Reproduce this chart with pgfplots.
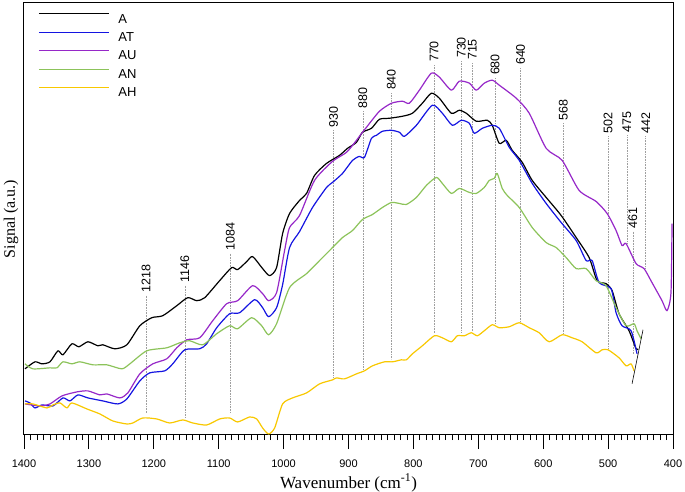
\documentclass[border=0pt]{standalone}
\usepackage{fontspec}
\setmainfont{Liberation Sans}
\newfontfamily\timesfont{Liberation Serif}
\usepackage{pgfplots}
\pgfplotsset{compat=1.18}
\definecolor{cA}{RGB}{0,0,0}
\definecolor{cAT}{RGB}{20,20,225}
\definecolor{cAU}{RGB}{150,40,200}
\definecolor{cAN}{RGB}{140,195,90}
\definecolor{cAH}{RGB}{248,200,0}
\begin{document}
\begin{tikzpicture}
\useasboundingbox (-24pt,-57pt) rectangle (661pt,435pt);
\begin{axis}[
  scale only axis, width=649pt, height=432pt,
  at={(0,0)}, anchor=south west,
  xmin=400, xmax=1400, x dir=reverse, ymin=0, ymax=431,
  axis line style={line width=1pt},
  xtick={400,500,...,1400}, minor x tick num=9,
  ytick=\empty, tick pos=left, tick align=outside,
  major tick length=14pt, minor tick length=5pt,
  every tick/.style={black, line width=0.8pt},
  /pgf/number format/assume math mode=true, /pgf/number format/1000 sep={},
  xticklabel style={font=\fontsize{11}{11}\selectfont, yshift=-7pt},
  xlabel={\timesfont Wavenumber (cm\textsuperscript{-1})},
  xlabel style={font=\fontsize{17}{17}\selectfont, at={(axis description cs:0.5,0)}, anchor=center, yshift=-48pt},
  ylabel={\timesfont Signal (a.u.)},
  ylabel style={font=\fontsize{16}{16}\selectfont, at={(axis description cs:0,0.5)}, anchor=center, rotate=0, yshift=13pt},
  legend image code/.code={\draw[#1, line width=1.2pt] (0pt,4.6pt) -- (70pt,4.6pt);},
  legend cell align=left,
  legend style={draw=none, fill=none, at={(axis description cs:0,1)}, anchor=north west, xshift=14pt, yshift=-10pt,
    font=\fontsize{13}{13}\selectfont, row sep=8.6pt, column sep=9pt, inner sep=0pt,
    nodes={inner sep=0pt, text height=9.3pt, text depth=0pt}},
  every axis plot/.append style={line width=1.2pt, line join=round},
]
% reference lines
\pgfplotsset{refl/.style={gray!75, line width=0.5pt, dash pattern=on 1pt off 0.6pt, forget plot}}
\addplot[refl] coordinates {(1212,139) (1212,21)};
\addplot[refl] coordinates {(1152,149) (1152,17)};
\addplot[refl] coordinates {(1082,181) (1082,22)};
\addplot[refl] coordinates {(923,304) (923,57)};
\addplot[refl] coordinates {(878,323) (878,65)};
\addplot[refl] coordinates {(834,341) (834,76)};
\addplot[refl] coordinates {(768,369) (768,101)};
\addplot[refl] coordinates {(726,373) (726,102)};
\addplot[refl] coordinates {(709,371) (709,104)};
\addplot[refl] coordinates {(674,356) (674,111)};
\addplot[refl] coordinates {(635,366) (635,112)};
\addplot[refl] coordinates {(569,311) (569,101)};
\addplot[refl] coordinates {(500,298) (500,86)};
\addplot[refl] coordinates {(471,299) (471,191)};
\addplot[refl] coordinates {(462,203) (462,81)};
\addplot[refl] coordinates {(442,298) (442,167)};

\addplot[cA, smooth, tension=0.4] coordinates {(1398.5,66)(1383.1,73)(1372.3,71)(1360,73)(1347.7,84)(1340,80)(1326.2,91)(1315.4,88)(1301.5,93)(1286.2,89)(1278.5,90)(1260,86)(1241.5,90)(1221.5,109)(1203.1,117)(1186.2,119)(1164.6,129)(1147.7,137)(1133.8,134)(1121.5,137)(1098.5,154)(1080,167)(1070.8,165)(1056.9,173)(1047.7,178)(1032.3,166)(1021.5,159)(1010.8,167)(1001.5,201)(990.8,221)(975.4,234)(964.6,241)(952.3,259)(933.8,271)(913.8,279)(901.5,286)(887.7,292)(878.5,302)(864.6,306)(852.3,315)(836.9,316)(816.9,318)(801.5,321)(786.2,331)(772.3,341)(760,336)(741.5,321)(729.2,324)(718.5,321)(703.1,313)(686.2,314)(678.5,309)(667.7,291)(656.9,294)(647.7,284)(632.3,272)(616.9,254)(595.4,237)(572.3,219)(549.2,197)(529.2,177)(516.9,154)(503.1,151)(493.8,144)(483.1,121)(467.7,104)(456.9,86)(453.8,86)};
\addlegendentry{A}
\addplot[cAT, smooth, tension=0.4] coordinates {(1398.5,34)(1390.8,32)(1383.1,27)(1372.3,30)(1355.4,29)(1340,37)(1329.2,34)(1316.9,40)(1301.5,37)(1278.5,34)(1255.4,31)(1241.5,36)(1221.5,54)(1206.2,62)(1183.1,64)(1170.8,71)(1152.3,85)(1129.2,86)(1118.5,91)(1103.1,107)(1083.1,121)(1067.7,122)(1044.6,135)(1032.3,127)(1023.1,118)(1010.8,127)(1001.5,150)(990.8,187)(975.4,203)(955.4,227)(933.8,247)(924.6,252)(909.2,261)(893.8,274)(883.1,278)(875.4,277)(864.6,296)(856.9,299)(847.7,303)(833.8,304)(821.5,302)(813.8,298)(795.4,309)(770.8,329)(755.4,321)(740,309)(726.2,314)(713.8,311)(706.2,301)(693.8,306)(678.5,309)(667.7,306)(652.3,287)(636.9,274)(616.9,251)(595.4,231)(572.3,212)(549.2,194)(533.8,174)(524.6,174)(513.8,152)(495.4,146)(487.7,122)(478.5,109)(464.6,104)(455.4,81)};
\addlegendentry{AT}
\addplot[cAU, smooth, tension=0.4] coordinates {(1398.5,31)(1375.4,29)(1360,31)(1341.5,39)(1318.5,43)(1301.5,44)(1283.1,40)(1272.3,41)(1252.3,37)(1240,42)(1221.5,61)(1201.5,71)(1180,76)(1164.6,87)(1149.2,95)(1129.2,97)(1109.2,114)(1087.7,131)(1070.8,134)(1047.7,149)(1032.3,141)(1023.1,134)(1010.8,142)(998.5,184)(990.8,207)(975.4,219)(952.3,254)(924.6,273)(903.1,282)(887.7,294)(878.5,302)(872.3,307)(852.3,323)(833.8,331)(816.9,333)(806.2,331)(790.8,344)(772.3,361)(760,357)(741.5,344)(729.2,353)(713.8,351)(703.1,344)(690.8,351)(678.5,354)(667.7,349)(641.5,336)(621.5,321)(595.4,286)(570.8,274)(544.6,244)(518.5,233)(501.5,221)(487.7,204)(478.5,189)(472.3,191)(456.9,171)(444.6,166)(432.3,152)(416.9,134)(409.2,124)(403.1,142)(401.5,211)};
\addlegendentry{AU}
\addplot[cAN, smooth, tension=0.4] coordinates {(1398.5,71)(1386.2,66)(1360,67)(1349.2,67)(1340,73)(1326.2,71)(1313.8,73)(1293.8,70)(1272.3,70)(1249.2,66)(1236.9,71)(1210.8,84)(1180,87)(1160,92)(1144.6,94)(1124.6,90)(1103.1,101)(1083.1,109)(1070.8,106)(1049.2,117)(1033.8,109)(1023.1,100)(1010.8,111)(990.8,147)(964.6,161)(944.6,174)(924.6,187)(909.2,197)(893.8,204)(878.5,215)(863.1,220)(847.7,227)(833.8,232)(821.5,231)(810.8,230)(795.4,237)(780,249)(764.6,257)(755.4,251)(741.5,241)(729.2,246)(713.8,242)(703.1,241)(690.8,247)(683.1,254)(675.4,256)(670.8,261)(663.1,246)(655.4,239)(636.9,227)(616.9,207)(595.4,192)(580,187)(564.6,177)(549.2,166)(533.8,166)(518.5,154)(503.1,149)(487.7,127)(472.3,109)(460,111)(455.4,104)(449.2,96)};
\addlegendentry{AN}
\addplot[cAH, smooth, tension=0.4] coordinates {(1398.5,31)(1386.2,31)(1364.6,27)(1355.4,30)(1344.6,32)(1333.8,27)(1326.2,32)(1303.1,26)(1283.1,21)(1263.1,14)(1241.5,11)(1232.3,12)(1216.9,17)(1195.4,16)(1175.4,12)(1155.4,15)(1140,12)(1118.5,10)(1098.5,16)(1083.1,17)(1070.8,13)(1052.3,18)(1041.5,16)(1032.3,7)(1023.1,1)(1013.8,7)(1001.5,31)(986.2,37)(964.6,42)(944.6,51)(924.6,55)(918.5,57)(906.2,56)(887.7,61)(875.4,64)(863.1,69)(844.6,73)(832.3,73)(818.5,75)(810.8,75)(801.5,81)(786.2,89)(767.7,99)(755.4,97)(741.5,93)(732.3,99)(721.5,99)(710.8,102)(701.5,99)(690.8,104)(678.5,110)(667.7,107)(652.3,108)(636.9,112)(621.5,107)(606.2,102)(590.8,93)(570.8,100)(555.4,97)(540,93)(518.5,82)(509.2,85)(500,85)(483.1,77)(472.3,69)(464.6,71)(460,64)};
\addlegendentry{AH}
\addplot[black, line width=0.6pt, forget plot] coordinates {(463.1,51) (446.2,105)};

\begin{scope}[every node/.style={rotate=90, anchor=west, inner sep=1pt, font=\fontsize{12.5}{12.5}\selectfont}]
\node at (axis cs:1212,141) {1218};
\node at (axis cs:1152,151) {1146};
\node at (axis cs:1082,183) {1084};
\node at (axis cs:923,306) {930};
\node at (axis cs:878,325) {880};
\node at (axis cs:834,343) {840};
\node at (axis cs:768,371) {770};
\node at (axis cs:726,375) {730};
\node at (axis cs:709,373) {715};
\node at (axis cs:674,358) {680};
\node at (axis cs:635,368) {640};
\node at (axis cs:569,313) {568};
\node at (axis cs:500,300) {502};
\node at (axis cs:471,301) {475};
\node at (axis cs:462,205) {461};
\node at (axis cs:442,300) {442};
\end{scope}
\end{axis}
\end{tikzpicture}
\end{document}
